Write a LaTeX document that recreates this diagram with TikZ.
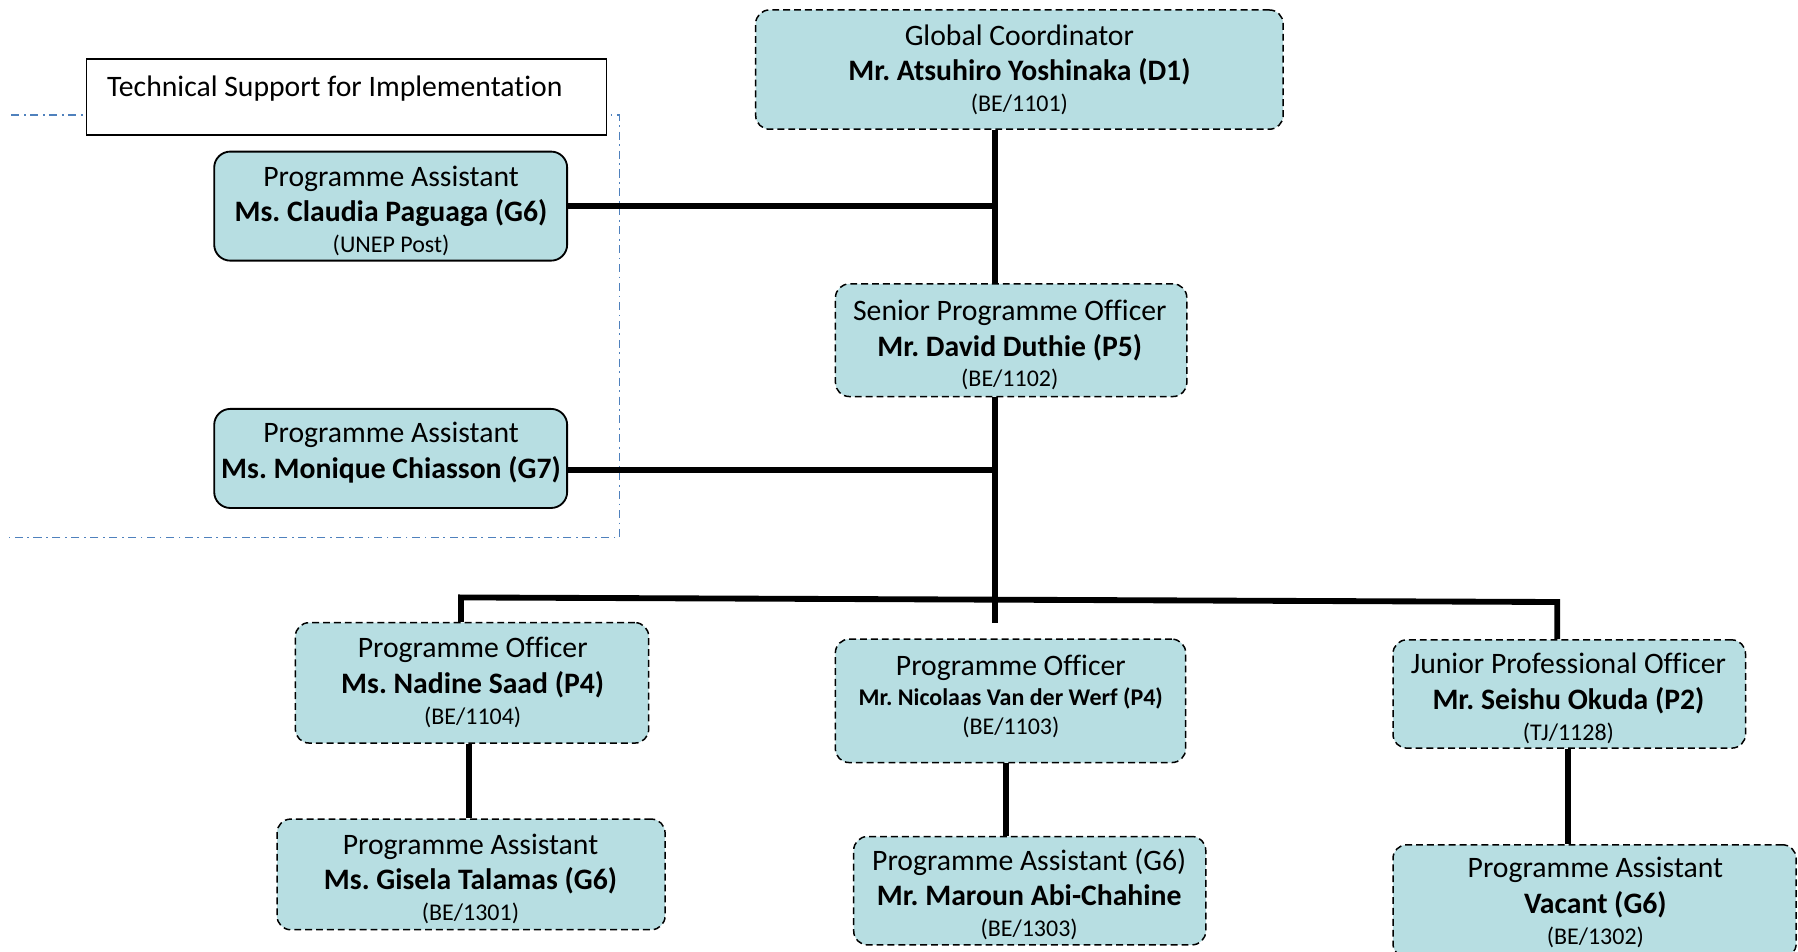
\documentclass[tikz,border=0pt]{standalone}
\usepackage{fontspec}
\setmainfont{Carlito}[Ligatures=NoCommon]
\frenchspacing
\definecolor{boxfill}{RGB}{183,222,226}
\definecolor{grpblue}{RGB}{79,129,189}
\newcommand\sz{\fontsize{20.9}{24}\selectfont}
\begin{document}
\begin{tikzpicture}[x=1pt,y=-1pt,
  orgbox/.style={draw=black, fill=boxfill, rounded corners=12pt, line width=1.3pt, dash pattern=on 6pt off 3.5pt, inner sep=0pt},
  solidbox/.style={draw=black, fill=boxfill, rounded corners=14pt, line width=1.6pt, inner sep=0pt},
  techbox/.style={draw=black, fill=white, line width=1.5pt, inner sep=0pt},
  txt/.style={align=center, font=\fontsize{25.9}{31}\selectfont\frenchspacing, inner sep=0pt},
  link/.style={line width=5.1pt, black},
  grpline/.style={draw=grpblue, line width=1.2pt, dash pattern=on 7pt off 4pt on 1.5pt off 4pt}]
\useasboundingbox (0,0) rectangle (1568,829.35);

% group frame
\draw[grpline] (10,100.3) -- (540,100.3) -- (540,469) -- (8,469);
\node[techbox, minimum width=453.6pt, minimum height=66.4pt] (tsi) at (302.2,84.6) {};
\node[txt, anchor=base west] (tsit) at (93.2,84.3) {Technical Support for Implementation};

% boxes
\node[orgbox, minimum width=460pt, minimum height=104pt] (gc) at (889,60.7) {};
\node[orgbox, minimum width=306.4pt, minimum height=98.2pt] (spo) at (881.8,296.7) {};
\node[solidbox, minimum width=307.8pt, minimum height=95.1pt] (pa1) at (340.7,179.75) {};
\node[solidbox, minimum width=307.8pt, minimum height=86.4pt] (pa2) at (340.7,399.8) {};
\node[orgbox, minimum width=308.1pt, minimum height=105pt] (nadine) at (411.65,595.5) {};
\node[orgbox, minimum width=338.4pt, minimum height=96.5pt] (gisela) at (410.8,762.55) {};
\node[orgbox, minimum width=305.5pt, minimum height=107.6pt] (nic) at (881.25,611.2) {};
\node[orgbox, minimum width=307pt, minimum height=94.5pt] (maroun) at (898,776.75) {};
\node[orgbox, minimum width=307.4pt, minimum height=94.4pt] (jpo) at (1368.5,605.2) {};
\node[orgbox, minimum width=351.6pt, minimum height=98.3pt] (vacant) at (1390.6,785.85) {};

% texts
\node[txt] (gct) at (889,61) {Global Coordinator\\\textbf{Mr. Atsuhiro Yoshinaka (D1)}\\[-4pt]{\sz (BE/1101)}};
\node[txt] (spot) at (880.6,301) {Senior Programme Officer\\\textbf{Mr. David Duthie (P5)}\\[-4pt]{\sz (BE/1102)}};
\node[txt] (pa1t) at (341,183.8) {Programme Assistant\\\textbf{Ms. Claudia Paguaga (G6)}\\[-4pt]{\sz (UNEP Post)}};
\node[txt] (pa2t) at (341,394.5) {Programme Assistant\\\textbf{Ms. Monique Chiasson (G7)}};
\node[txt] (nadinet) at (412.2,595) {Programme Officer\\\textbf{Ms. Nadine Saad (P4)}\\[-4pt]{\sz (BE/1104)}};
\node[txt] (giselat) at (410.3,766.5) {Programme Assistant\\\textbf{Ms. Gisela Talamas (G6)}\\[-4pt]{\sz (BE/1301)}};
\node[txt] (nict) at (881.5,607) {Programme Officer\\[-4.6pt]{\sz\bfseries Mr. Nicolaas Van der Werf (P4)}\\[-6pt]{\sz (BE/1103)}};
\node[txt] (marount) at (897.5,780) {Programme Assistant (G6)\\\textbf{Mr. Maroun Abi-Chahine}\\[-4pt]{\sz (BE/1303)}};
\node[txt] (jpot) at (1367.8,608.8) {Junior Professional Officer\\\textbf{Mr. Seishu Okuda (P2)}\\[-4pt]{\sz (TJ/1128)}};
\node[txt] (vacantt) at (1391.3,787) {Programme Assistant\\\textbf{Vacant (G6)}\\[-4pt]{\sz (BE/1302)}};

% connectors
\coordinate (spine) at (868,0);
\coordinate (hub) at (868,543);
\coordinate (busL) at (402,521);
\coordinate (busR) at (1358,525);
\coordinate (c1) at (409.3,0);
\coordinate (c2) at (877,0);
\coordinate (c3) at (1367.3,0);
\draw[link] (gc.south -| spine) -- (spo.north -| spine);
\draw[link] (pa1.east) -- (pa1.east -| spine);
\draw[link] ([yshift=-10pt]pa2.east) -- ([yshift=-10pt]pa2.east -| spine);
\draw[link] (spo.south -| spine) -- (hub);
\draw[link] (nadine.north -| busL) -- (busL) -- (busR) -- (jpo.north -| busR);
\draw[link] (nadine.south -| c1) -- (gisela.north -| c1);
\draw[link] (nic.south -| c2) -- (maroun.north -| c2);
\draw[link] (jpo.south -| c3) -- (vacant.north -| c3);
\end{tikzpicture}
\end{document}
